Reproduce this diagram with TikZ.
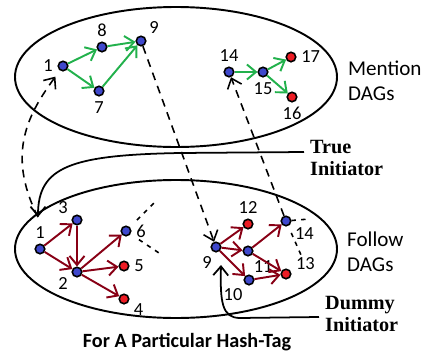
\documentclass[tikz,border=0pt]{standalone}
\usepackage{fontspec}
\setmainfont{Liberation Serif}
\setsansfont{Carlito}
\usepackage{xcolor}
\usepackage{tikz}
\usetikzlibrary{positioning}
\usetikzlibrary{arrows.meta}

\definecolor{dotblue}{HTML}{3F48CC}
\definecolor{dotred}{HTML}{ED1C24}
\definecolor{mgreen}{HTML}{22B14C}
\definecolor{fred}{HTML}{880015}

\tikzset{
  user/.style={circle, draw=black, line width=0.9pt, fill=dotblue, minimum size=1.9mm, inner sep=0pt},
  leaf/.style={user, fill=dotred},
  ment/.style={draw=mgreen, line width=1.1pt, ->},
  foll/.style={draw=fred, line width=1.1pt, ->},
  prop/.style={dashed, dash pattern=on 4.5pt off 3.5pt, line width=0.9pt, ->},
  stub/.style={dash pattern=on 2.5pt off 3pt, line width=0.9pt},
  tag/.style={font=\sffamily\fontsize{12}{14}\selectfont, align=left, anchor=west},
  initr/.style={font=\bfseries\fontsize{11.5}{13}\selectfont, align=left, anchor=west},
  every label/.style={font=\sffamily\fontsize{10.5}{12}\selectfont, inner sep=1pt},
}

\begin{document}
\begin{tikzpicture}[x=0.2mm, y=0.2mm, label distance=1.5pt, >={Straight Barb[length=1.8mm,width=3mm]}]
        \useasboundingbox (0,0) rectangle (423,352);

        % Two groups
        \draw[line width=1.1pt] (176,275) ellipse [x radius=3.22cm, y radius=1.4cm];
        \draw[line width=1.1pt] (176,103) ellipse [x radius=3.22cm, y radius=1.38cm];

        % Upper group (Mention)
        \node[user, label=left:1] (m1) at (63,286) {};
        \node[user, label=above:8] (m8) at (102,305) {};
        \node[user, label=below:7] (m7) at (99,261) {};
        \node[user, label=40:9] (m9) at (141,311) {};
        \node[user, label=above:14] (m14) at (229,280) {};
        \node[user, label=below:15] (m15) at (263,280) {};
        \node[leaf, label=right:17] (m17) at (291,295) {};
        \node[leaf, label=below:16] (m16) at (292,255) {};

        \draw[ment] (m1) -- (m8);
        \draw[ment] (m1) -- (m7);
        \draw[ment] (m8) -- (m9);
        \draw[ment] (m7) -- (m9);
        \draw[ment] (m14) -- (m15);
        \draw[ment] (m15) -- (m17);
        \draw[ment] (m15) -- (m16);

        % Lower group (Follow)
        \node[user, label=above:1] (f1) at (40,103) {};
        \node[user, label=152:3] (f3) at (77,132) {};
        \node[user, label=208:2] (f2) at (77,80) {};
        \node[user, label=right:6] (f6) at (126,121) {};
        \node[leaf, label=right:5] (f5) at (124,86) {};
        \node[leaf, label=-20:4] (f4) at (124,53) {};
        \node[user, label=-105:9] (f9) at (216,105) {};
        \node[leaf, label=above:12] (f12) at (248,128) {};
        \node[user, label=-63:11] (f11) at (248,101) {};
        \node[user, label=-123:10] (f10) at (249,72) {};
        \node[user, label=-32:14] (f14) at (286,131) {};
        \node[leaf, label=15:13] (f13) at (286,78) {};

        \draw[foll] (f1) -- (f3);
        \draw[foll] (f1) -- (f2);
        \draw[foll] (f3) -- (f2);
        \draw[foll] (f2) -- (f6);
        \draw[foll] (f2) -- (f5);
        \draw[foll] (f2) -- (f4);
        \draw[foll] (f9) -- (f12);
        \draw[foll] (f9) -- (f11);
        \draw[foll] (f9) -- (f10);
        \draw[foll] (f11) -- (f14);
        \draw[foll] (f11) -- (f13);
        \draw[foll] (f10) -- (f13);

        % Loose ends
        \coordinate (s6a) at (157,152);
        \coordinate (s6b) at (159,99);
        \coordinate (s14a) at (309,133);
        \coordinate (s14b) at (301,97);
        \draw[stub, shorten <=2mm] (f6) -- (s6a);
        \draw[stub, shorten <=2mm] (f6) -- (s6b);
        \draw[stub] (f14) -- (s14a);
        \draw[stub, shorten <=1.5mm] (f14) -- (s14b);

        % Between the groups
        \coordinate (f1in) at (38,135);
        \coordinate (di9) at (221,87);
        \draw[prop] (m9) -- (f9);
        \draw[prop] (f14) -- (m14);
        \draw[prop, shorten >=1.5mm] (f1in) .. controls (5,200) and (30,240) .. (m1);

        % Texts
        \node[tag] (mtag) at (342,271) {Mention\\DAGs};
        \node[tag] (ftag) at (341,100) {Follow\\DAGs};
        \node[initr] (ti) at (304,194) {True\\Initiator};
        \node[initr] (di) at (319,38) {Dummy\\Initiator};
        \node[font=\sffamily\bfseries\fontsize{11.5}{13}\selectfont] (cap) at (187,10) {For A Particular Hash-Tag};

        \draw[line width=1pt, ->] ([yshift=1.2mm]ti.west) -- (180,199) .. controls (70,197) and (38,185) .. (f1in);
        \draw[line width=1pt, ->] ([yshift=-0.6mm]di.west) -- (240,34) .. controls (222,34) and (220,50) .. (di9);
    \end{tikzpicture}
\end{document}
